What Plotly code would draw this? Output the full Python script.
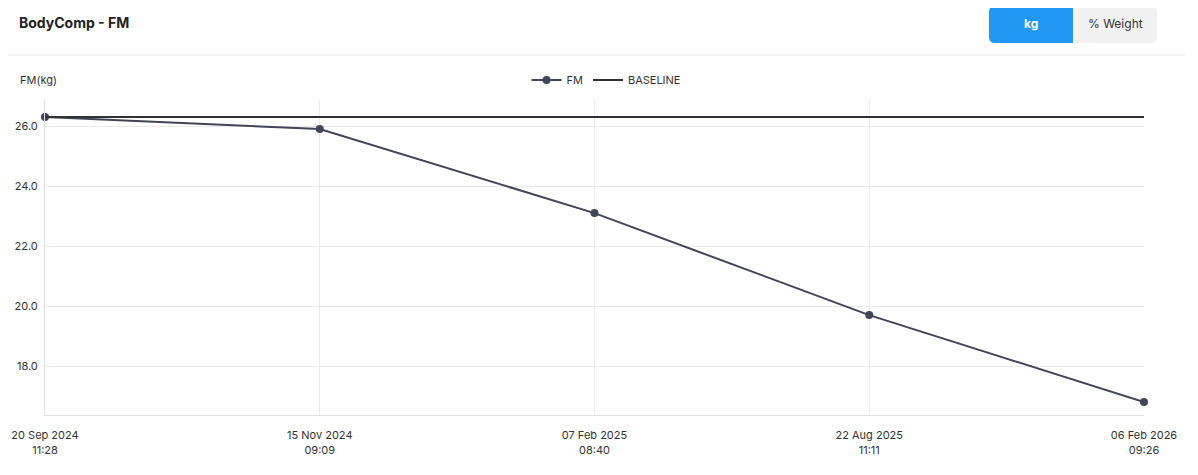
import plotly.graph_objects as go

dates = ["20 Sep 2024<br>11:28", "15 Nov 2024<br>09:09", "07 Feb 2025<br>08:40",
         "22 Aug 2025<br>11:11", "06 Feb 2026<br>09:26"]
fm_values = [26.3, 25.9, 23.1, 19.7, 16.8]
baseline_values = [26.3, 26.3, 26.3, 26.3, 26.3]

# page body has an 8px margin; work in screen pixels and shift
OFF = 8
SW, SH = 1198, 475
W, H = SW - OFF, SH - OFF
L, R, T, B = 45, 1144, 100, 415  # screen pixels of the plot area

def px(x):
    return (x - L) / (R - L)

def py(y):
    return (B - y) / (B - T)

def rrect(x0, y0, x1, y1, r, left=True, right=True):
    pts = []
    if left:
        pts.append(f"M{px(x0)},{py(y0 + r)}")
        pts.append(f"Q{px(x0)},{py(y0)} {px(x0 + r)},{py(y0)}")
    else:
        pts.append(f"M{px(x0)},{py(y0)}")
    if right:
        pts.append(f"L{px(x1 - r)},{py(y0)}")
        pts.append(f"Q{px(x1)},{py(y0)} {px(x1)},{py(y0 + r)}")
        pts.append(f"L{px(x1)},{py(y1 - r)}")
        pts.append(f"Q{px(x1)},{py(y1)} {px(x1 - r)},{py(y1)}")
    else:
        pts.append(f"L{px(x1)},{py(y0)}")
        pts.append(f"L{px(x1)},{py(y1)}")
    if left:
        pts.append(f"L{px(x0 + r)},{py(y1)}")
        pts.append(f"Q{px(x0)},{py(y1)} {px(x0)},{py(y1 - r)}")
    else:
        pts.append(f"L{px(x0)},{py(y1)}")
    pts.append("Z")
    return " ".join(pts)

fig = go.Figure()
fig.add_trace(go.Scatter(
    x=dates, y=fm_values, name="FM", mode="lines+markers",
    line=dict(color="#444458", width=2),
    marker=dict(size=8, color="#444458"),
    cliponaxis=False,
))
fig.add_trace(go.Scatter(
    x=dates, y=baseline_values, name="BASELINE", mode="lines",
    line=dict(color="#2f3136", width=2),
    cliponaxis=False,
))

shapes = [
    dict(type="line", xref="paper", yref="paper", x0=px(OFF), x1=px(1185), y0=py(55), y1=py(55),
         line=dict(color="#ebebeb", width=1)),
    dict(type="path", xref="paper", yref="paper", path=rrect(1073, 6, 1157, 43, 6, left=False),
         fillcolor="#f1f1f1", line=dict(width=0)),
    dict(type="path", xref="paper", yref="paper", path=rrect(989, 6, 1073, 43, 6, right=False),
         fillcolor="#2196f3", line=dict(width=0)),
    dict(type="rect", xref="paper", yref="paper", x0=px(1195), x1=px(1198), y0=py(160), y1=py(232),
         fillcolor="#d6d6d6", line=dict(width=0)),
]

annotations = [
    dict(text="<b>BodyComp - FM</b>", xref="paper", yref="paper", x=px(17), y=py(22),
         xanchor="left", yanchor="middle", showarrow=False,
         font=dict(size=14, color="#222222")),
    dict(text="<b>kg</b>", xref="paper", yref="paper", x=px(1031), y=py(24),
         xanchor="center", yanchor="middle", showarrow=False,
         font=dict(size=12, color="#ffffff")),
    dict(text="% Weight", xref="paper", yref="paper", x=px(1115), y=py(24),
         xanchor="center", yanchor="middle", showarrow=False,
         font=dict(size=12, color="#333333")),
    dict(text="FM(kg)", xref="paper", yref="paper", x=px(18), y=py(80),
         xanchor="left", yanchor="middle", showarrow=False,
         font=dict(size=11, color="#333333")),
]

fig.update_layout(
    width=W, height=H,
    margin=dict(l=L - OFF, r=SW - R, t=T - OFF, b=SH - B, autoexpand=False),
    paper_bgcolor="white", plot_bgcolor="white",
    font=dict(family="Inter, Roboto, sans-serif", size=11, color="#333333"),
    showlegend=True,
    legend=dict(orientation="h", x=px(606), y=py(80), xanchor="center", yanchor="middle",
                font=dict(size=11, color="#333333"), itemwidth=30, tracegroupgap=0),
    shapes=shapes,
    annotations=annotations,
    xaxis=dict(type="category", range=[0, 4], showgrid=True, gridcolor="#ebebeb",
               showline=True, linecolor="#e0e0e0", linewidth=1, ticks="",
               ticklabelstandoff=10, zeroline=False, fixedrange=True, automargin=False),
    yaxis=dict(range=[16.37, 26.87], dtick=2, tick0=0, tickformat=".1f",
               showgrid=True, gridcolor="#ebebeb", showline=True, linecolor="#e0e0e0",
               ticks="", ticklabelstandoff=4, zeroline=False, automargin=False),
)

fig.write_html("out.html")
